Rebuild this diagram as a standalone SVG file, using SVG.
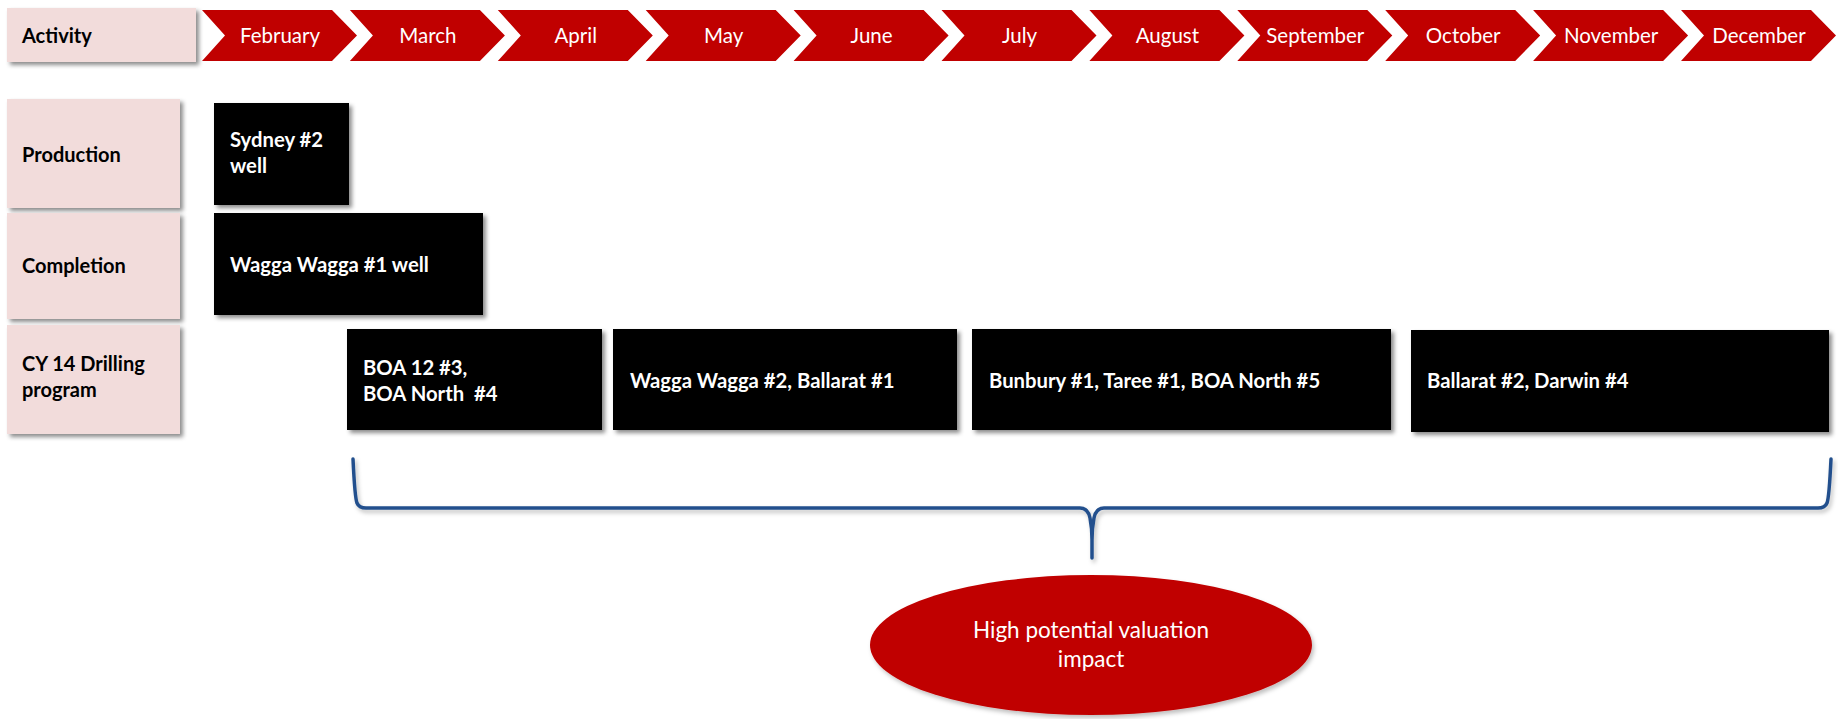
<svg xmlns="http://www.w3.org/2000/svg" width="1838" height="719" viewBox="0 0 1838 719">
  <style>
    .lbl { fill: #F2DCDB; }
    .bar { fill: #000000; }
    .chev { fill: #C00000; }
    .mon { font-family: Lato, "Open Sans", sans-serif; font-size: 20.5px; fill: #FFFFFF; text-anchor: middle; }
    .rowt { font-family: Lato, "Open Sans", sans-serif; font-size: 20px; font-weight: bold; fill: #000000; }
    .bart { font-family: Lato, "Open Sans", sans-serif; font-size: 20.3px; font-weight: bold; fill: #FFFFFF; }
    .ell { font-family: Lato, "Open Sans", sans-serif; font-size: 22.5px; fill: #FFFFFF; text-anchor: middle; }
    .brace { fill: none; stroke: #23508D; stroke-width: 3.5; stroke-linecap: round; stroke-linejoin: round; }
  </style>
  <defs>
    <filter id="sh" x="-10%" y="-10%" width="130%" height="140%">
      <feDropShadow dx="3" dy="3" stdDeviation="2" flood-color="#000000" flood-opacity="0.45"/>
    </filter>
    <filter id="shs" x="-10%" y="-10%" width="130%" height="140%">
      <feDropShadow dx="2" dy="3" stdDeviation="2" flood-color="#000000" flood-opacity="0.25"/>
    </filter>
  </defs>
  <rect width="1838" height="719" fill="#FFFFFF"/>

  <g id="activity">
    <rect class="lbl" x="7" y="8" width="189" height="54" filter="url(#sh)"/>
    <text class="rowt" x="22" y="43">Activity</text>
  </g>

  <g id="months">
    <g id="m-feb"><path class="chev" d="M202,10 L332,10 L357,35.5 L332,61 L202,61 L225,35.5 Z"/><text class="mon" x="280" y="43">February</text></g>
    <g id="m-mar"><path class="chev" d="M349.9,10 L479.9,10 L504.9,35.5 L479.9,61 L349.9,61 L372.9,35.5 Z"/><text class="mon" x="427.9" y="43">March</text></g>
    <g id="m-apr"><path class="chev" d="M497.8,10 L627.8,10 L652.8,35.5 L627.8,61 L497.8,61 L520.8,35.5 Z"/><text class="mon" x="575.8" y="43">April</text></g>
    <g id="m-may"><path class="chev" d="M645.7,10 L775.7,10 L800.7,35.5 L775.7,61 L645.7,61 L668.7,35.5 Z"/><text class="mon" x="723.7" y="43">May</text></g>
    <g id="m-jun"><path class="chev" d="M793.6,10 L923.6,10 L948.6,35.5 L923.6,61 L793.6,61 L816.6,35.5 Z"/><text class="mon" x="871.6" y="43">June</text></g>
    <g id="m-jul"><path class="chev" d="M941.5,10 L1071.5,10 L1096.5,35.5 L1071.5,61 L941.5,61 L964.5,35.5 Z"/><text class="mon" x="1019.5" y="43">July</text></g>
    <g id="m-aug"><path class="chev" d="M1089.4,10 L1219.4,10 L1244.4,35.5 L1219.4,61 L1089.4,61 L1112.4,35.5 Z"/><text class="mon" x="1167.4" y="43">August</text></g>
    <g id="m-sep"><path class="chev" d="M1237.3,10 L1367.3,10 L1392.3,35.5 L1367.3,61 L1237.3,61 L1260.3,35.5 Z"/><text class="mon" x="1315.3" y="43">September</text></g>
    <g id="m-oct"><path class="chev" d="M1385.2,10 L1515.2,10 L1540.2,35.5 L1515.2,61 L1385.2,61 L1408.2,35.5 Z"/><text class="mon" x="1463.2" y="43">October</text></g>
    <g id="m-nov"><path class="chev" d="M1533.1,10 L1663.1,10 L1688.1,35.5 L1663.1,61 L1533.1,61 L1556.1,35.5 Z"/><text class="mon" x="1611.1" y="43">November</text></g>
    <g id="m-dec"><path class="chev" d="M1681,10 L1811,10 L1836,35.5 L1811,61 L1681,61 L1704,35.5 Z"/><text class="mon" x="1759" y="43">December</text></g>
  </g>

  <g id="row-production">
    <rect class="lbl" x="7" y="99" width="173" height="109" filter="url(#sh)"/>
    <text class="rowt" x="22" y="162">Production</text>
  </g>
  <g id="row-completion">
    <rect class="lbl" x="7" y="213" width="173" height="106" filter="url(#sh)"/>
    <text class="rowt" x="22" y="273">Completion</text>
  </g>
  <g id="row-drilling">
    <rect class="lbl" x="7" y="325" width="173" height="109" filter="url(#sh)"/>
    <text class="rowt" x="22" y="371">CY 14 Drilling</text>
    <text class="rowt" x="22" y="397">program</text>
  </g>

  <g id="bar-sydney">
    <rect class="bar" x="214" y="103" width="135" height="102" filter="url(#sh)"/>
    <text class="bart" x="230" y="147">Sydney #2</text>
    <text class="bart" x="230" y="173">well</text>
  </g>
  <g id="bar-wagga1">
    <rect class="bar" x="214" y="213" width="269" height="102" filter="url(#sh)"/>
    <text class="bart" x="230" y="272">Wagga Wagga #1 well</text>
  </g>
  <g id="bar-boa">
    <rect class="bar" x="347" y="329" width="255" height="101" filter="url(#sh)"/>
    <text class="bart" x="363" y="375">BOA 12 #3,</text>
    <text class="bart" x="363" y="401" xml:space="preserve">BOA North  #4</text>
  </g>
  <g id="bar-wagga2">
    <rect class="bar" x="613" y="329" width="344" height="101" filter="url(#sh)"/>
    <text class="bart" x="630" y="388">Wagga Wagga #2, Ballarat #1</text>
  </g>
  <g id="bar-bunbury">
    <rect class="bar" x="972" y="329" width="419" height="101" filter="url(#sh)"/>
    <text class="bart" x="989" y="388">Bunbury #1, Taree #1, BOA North #5</text>
  </g>
  <g id="bar-ballarat2">
    <rect class="bar" x="1411" y="330" width="418" height="102" filter="url(#sh)"/>
    <text class="bart" x="1427" y="388">Ballarat #2, Darwin #4</text>
  </g>

  <g id="connectors">
    <path class="brace" filter="url(#shs)" d="M353,459 C354,480 355,498 357,503 Q359,508 366,508 L1080,508 Q1088,508 1090,518 Q1092,528 1092,540 L1092,558 M1092,540 Q1092,528 1094,518 Q1096,508 1104,508 L1818,508 Q1825,508 1827,503 C1829,498 1830,480 1831,459"/>
  </g>

  <g id="impact">
    <ellipse cx="1091" cy="645" rx="221" ry="70" fill="#C00000" filter="url(#shs)"/>
    <text class="ell" x="1091" y="638">High potential valuation</text>
    <text class="ell" x="1091" y="667">impact</text>
  </g>
</svg>
